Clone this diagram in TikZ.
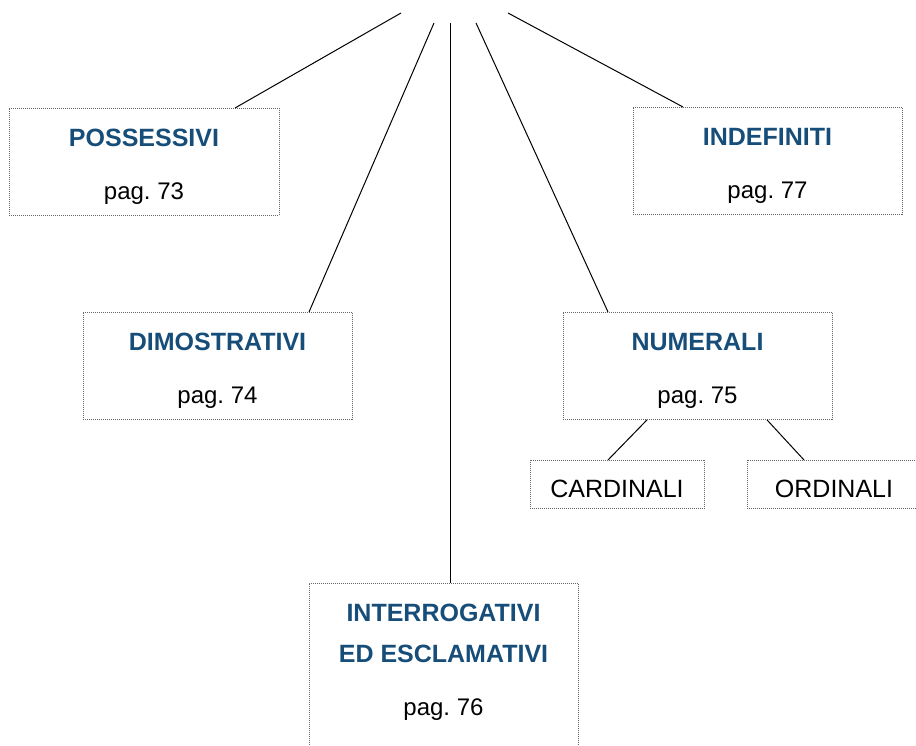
\documentclass[tikz,border=0pt]{standalone}
\usepackage{fontspec}
\setmainfont{Liberation Sans}
\usepackage{xcolor}
\definecolor{blu}{RGB}{22,77,121}
\frenchspacing
\newcommand{\titolo}[1]{\rule{0pt}{27pt}{\fontsize{25}{30}\selectfont\bfseries\color{blu}#1}}
\tikzset{
	voce/.style={draw=black!60, dash pattern=on 1pt off 1pt, line width=0.9pt,
		minimum width=269pt, inner xsep=0pt, inner ysep=11pt,
		align=center, anchor=north, font=\fontsize{24}{30}\selectfont},
	sotto/.style={voce, minimum width=174pt, font=\fontsize{25}{30}\selectfont},
	ramo/.style={line width=1pt}
}
\begin{document}
\begin{tikzpicture}[x=1pt,y=-1pt]
		\useasboundingbox (0,0) rectangle (916,746);
		\node[voce, minimum width=270pt] (poss) at (144,108) {\titolo{POSSESSIVI}\\[23pt]pag. 73};
		\node[voce] (indef) at (767.5,107) {\titolo{INDEFINITI}\\[23pt]pag. 77};
		\node[voce] (dim) at (217.5,312) {\titolo{DIMOSTRATIVI}\\[23pt]pag. 74};
		\node[voce] (num) at (697.5,312) {\titolo{NUMERALI}\\[23pt]pag. 75};
		\node[voce] (int) at (443.5,583) {\titolo{INTERROGATIVI}\\[11pt]\titolo{ED ESCLAMATIVI}\\[23pt]pag. 76\rule[-40pt]{0pt}{0pt}};
		\node[sotto] (card) at (617,460) {\rule{0pt}{26pt}CARDINALI};
		\node[sotto] (ord) at (834,460) {\rule{0pt}{26pt}ORDINALI};
		% free ends at the top
		\coordinate (t_1) at (401,13);
		\coordinate (t_2) at (434,23);
		\coordinate (t_3) at (450,23);
		\coordinate (t_4) at (476,23);
		\coordinate (t_5) at (508,13);
		\draw[ramo] (t_1) -- ([xshift=91pt]poss.north);
		\draw[ramo] (t_2) -- ([xshift=91.5pt]dim.north);
		\draw[ramo] (t_3) -- ([xshift=6.5pt]int.north);
		\draw[ramo] (t_4) -- ([xshift=-89.5pt]num.north);
		\draw[ramo] (t_5) -- ([xshift=-84.5pt]indef.north);
		\draw[ramo] ([xshift=-50.5pt]num.south) -- ([xshift=-9pt]card.north);
		\draw[ramo] ([xshift=69.5pt]num.south) -- ([xshift=-30pt]ord.north);
		\end{tikzpicture}
\end{document}
